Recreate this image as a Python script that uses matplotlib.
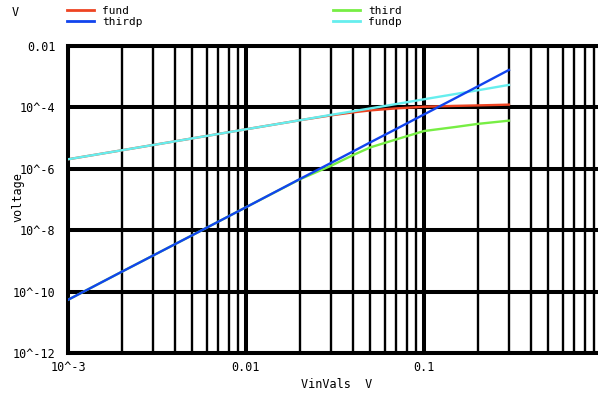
import matplotlib
matplotlib.use("Agg")
import matplotlib.pyplot as plt
from matplotlib.lines import Line2D
from matplotlib.ticker import FixedLocator, NullFormatter

# values (log-log sweep)
vin = [1e-3, 2e-3, 5e-3, 0.01, 0.02, 0.03, 0.04, 0.05, 0.07, 0.1, 0.15, 0.2, 0.3]
fund = [2.04e-6, 4.0e-6, 9.8e-6, 1.94e-5, 3.8e-5, 5.5e-5, 6.9e-5, 8.0e-5,
        9.3e-5, 1.05e-4, 1.12e-4, 1.16e-4, 1.23e-4]
thirdp = [5.4e-11, 4.4e-10, 6.9e-9, 5.6e-8, 4.6e-7, 1.55e-6, 3.7e-6, 7.3e-6,
          2.0e-5, 5.9e-5, 2.0e-4, 4.8e-4, 1.66e-3]
third = [5.4e-11, 4.4e-10, 6.9e-9, 5.6e-8, 4.5e-7, 1.25e-6, 2.8e-6, 5.0e-6,
         9.1e-6, 1.7e-5, 2.3e-5, 2.9e-5, 3.7e-5]
fundp = [2.04e-6, 4.0e-6, 9.8e-6, 1.94e-5, 3.8e-5, 5.7e-5, 7.5e-5, 9.3e-5,
         1.29e-4, 1.84e-4, 2.73e-4, 3.6e-4, 5.4e-4]

yticks = [1e-12, 1e-10, 1e-8, 1e-6, 1e-4, 1e-2]
ylabels = ["10^-12", "10^-10", "10^-8", "10^-6", "10^-4", "0.01"]
xticks = [1e-3, 1e-2, 1e-1]
xlabels = ["10^-3", "0.01", "0.1"]

RED = "#ee4422"
BLUE = "#1144ee"
GREEN = "#77ee44"
CYAN = "#66eeee"

plt.rcParams["font.family"] = ["DejaVu Sans Mono"]
plt.rcParams["font.size"] = 8.5

W, H = 598, 396
fig = plt.figure(figsize=(W / 100, H / 100), dpi=100)
ax = fig.add_axes([68 / W, 43 / H, 534 / W, 307 / H])

ax.set_xscale("log")
ax.set_yscale("log")
ax.set_xlim(1e-3, 1)
ax.set_ylim(1e-12, 1e-2)

ax.plot(vin, fund, color=RED, lw=1.7, zorder=3)
ax.plot(vin, third, color=GREEN, lw=1.7, zorder=3)
ax.plot(vin, fundp, color=CYAN, lw=1.7, zorder=3)
ax.plot(vin, thirdp, color=BLUE, lw=1.7, zorder=3)

# ticks / grid
ax.xaxis.set_major_locator(FixedLocator(xticks))
ax.set_xticklabels(xlabels)
minor = [m * 10.0 ** e for e in (-3, -2, -1) for m in range(2, 10)]
ax.xaxis.set_minor_locator(FixedLocator(minor))
ax.xaxis.set_minor_formatter(NullFormatter())
ax.yaxis.set_major_locator(FixedLocator(yticks))
ax.set_yticklabels(ylabels)
ax.yaxis.set_minor_locator(FixedLocator([]))

ax.tick_params(which="both", length=0)
ax.tick_params(axis="y", pad=9)
ax.tick_params(axis="x", pad=6)

ax.grid(True, which="major", axis="both", color="black", lw=2.9)
ax.grid(True, which="minor", axis="x", color="black", lw=1.7)
ax.set_axisbelow(True)
for s in ax.spines.values():
    s.set_linewidth(2.9)
    s.set_color("black")

# axis titles
fig.text(18 / W, 1 - 197 / H, "voltage", rotation=90, ha="center", va="center")
fig.text(337 / W, 1 - 384 / H, "VinVals  V", ha="center", va="center")
fig.text(15 / W, 1 - 12 / H, "V", ha="center", va="center")

# legend
legend = [("fund", RED, 67, 10), ("thirdp", BLUE, 67, 21),
          ("third", GREEN, 333, 10), ("fundp", CYAN, 333, 21)]
for name, col, x0, y0 in legend:
    fig.add_artist(Line2D([x0 / W, (x0 + 27) / W], [1 - y0 / H, 1 - y0 / H],
                          color=col, lw=2, transform=fig.transFigure))
    fig.text((x0 + 35) / W, 1 - (y0 + 1) / H, name, ha="left", va="center",
             fontsize=8)

fig.savefig("out.png", dpi=100)
